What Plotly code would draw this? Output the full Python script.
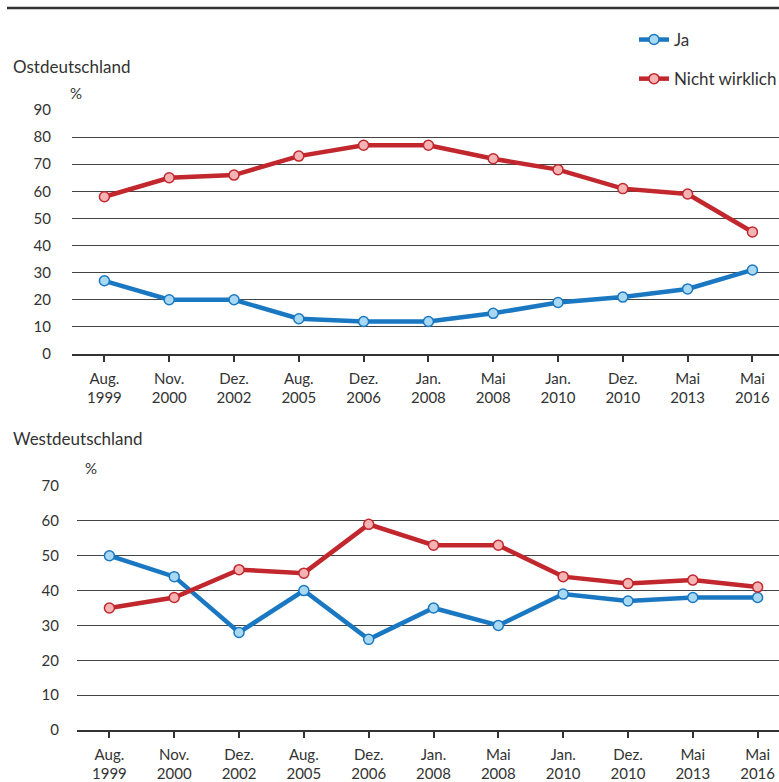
import plotly.graph_objects as go

categories = ["Aug.<br>1999", "Nov.<br>2000", "Dez.<br>2002", "Aug.<br>2005", "Dez.<br>2006",
              "Jan.<br>2008", "Mai<br>2008", "Jan.<br>2010", "Dez.<br>2010", "Mai<br>2013", "Mai<br>2016"]

ost_ja = [27, 20, 20, 13, 12, 12, 15, 19, 21, 24, 31]
ost_nicht = [58, 65, 66, 73, 77, 77, 72, 68, 61, 59, 45]
west_ja = [50, 44, 28, 40, 26, 35, 30, 39, 37, 38, 38]
west_nicht = [35, 38, 46, 45, 59, 53, 53, 44, 42, 43, 41]

series_names = ["Ja", "Nicht wirklich"]
y_ticks_ost = [0, 10, 20, 30, 40, 50, 60, 70, 80, 90]
y_ticks_west = [0, 10, 20, 30, 40, 50, 60, 70]

W, H = 779, 782
BLUE = "#1a78c2"
BLUE_FILL = "#a9d9f2"
RED = "#c1272d"
RED_FILL = "#f5b3b3"
FONT = "Lato"
TXT = "#333333"

def px(x):
    return x / W

def py(y):
    return 1 - y / H

fig = go.Figure()

def add(y, name, color, fill, xa, ya, show):
    fig.add_trace(go.Scatter(
        x=list(range(len(categories))), y=y, name=name, mode="lines+markers",
        line=dict(color=color, width=4.5),
        marker=dict(size=10, color=fill, line=dict(color=color, width=1.5)),
        xaxis=xa, yaxis=ya, showlegend=show, legendgroup=name,
    ))

add(ost_ja, series_names[0], BLUE, BLUE_FILL, "x", "y", True)
add(ost_nicht, series_names[1], RED, RED_FILL, "x", "y", True)
add(west_ja, series_names[0], BLUE, BLUE_FILL, "x2", "y2", False)
add(west_nicht, series_names[1], RED, RED_FILL, "x2", "y2", False)

xcommon = dict(
    tickmode="array", tickvals=list(range(len(categories))), ticktext=categories,
    showgrid=False, zeroline=False, showline=True, linecolor="#333", linewidth=1.5,
    ticks="outside", ticklen=6, tickcolor="#333", tickwidth=1.5,
    tickfont=dict(family=FONT, size=15, color=TXT), fixedrange=True,
    automargin=False, ticklabelstandoff=4,
)
ycommon = dict(
    showgrid=True, gridcolor="#444", gridwidth=1.2, zeroline=False, showline=False,
    ticks="", tickfont=dict(family=FONT, size=15, color=TXT), fixedrange=True,
    automargin=False,
)

fig.update_layout(
    width=W, height=H,
    margin=dict(l=0, r=0, t=0, b=0, autoexpand=False),
    paper_bgcolor="white", plot_bgcolor="white",
    font=dict(family=FONT, color=TXT),
    xaxis=dict(xcommon, domain=[px(72), 1], range=[-0.5, 10.41], anchor="y"),
    yaxis=dict(ycommon, domain=[py(354), py(110)], range=[0, 90], tickvals=y_ticks_ost,
               anchor="x", ticklabelstandoff=20),
    xaxis2=dict(xcommon, domain=[px(77), 1], range=[-0.5, 10.33], anchor="y2"),
    yaxis2=dict(ycommon, domain=[py(730), py(486)], range=[0, 70], tickvals=y_ticks_west,
                anchor="x2", ticklabelstandoff=17),
    legend=dict(x=px(634), y=py(22), xanchor="left", yanchor="top",
                font=dict(family=FONT, size=17, color=TXT),
                tracegroupgap=14, traceorder="grouped", itemwidth=30,
                bgcolor="rgba(0,0,0,0)"),
    shapes=[dict(type="line", xref="paper", yref="paper", x0=px(7), x1=1, y0=py(8), y1=py(8),
                 line=dict(color="#333", width=2.5))],
    annotations=[
        dict(text="Ostdeutschland", x=px(11), y=py(67), xref="paper", yref="paper",
             xanchor="left", yanchor="middle", showarrow=False,
             font=dict(family=FONT, size=17, color=TXT)),
        dict(text="%", x=px(68), y=py(93), xref="paper", yref="paper",
             xanchor="left", yanchor="middle", showarrow=False,
             font=dict(family=FONT, size=15, color=TXT)),
        dict(text="Westdeutschland", x=px(11), y=py(438), xref="paper", yref="paper",
             xanchor="left", yanchor="middle", showarrow=False,
             font=dict(family=FONT, size=17, color=TXT)),
        dict(text="%", x=px(83), y=py(468), xref="paper", yref="paper",
             xanchor="left", yanchor="middle", showarrow=False,
             font=dict(family=FONT, size=15, color=TXT)),
    ],
)

fig.write_html("out.html", config={"displayModeBar": False},
               post_script="document.body.style.margin='0';document.body.style.overflow='hidden';")
